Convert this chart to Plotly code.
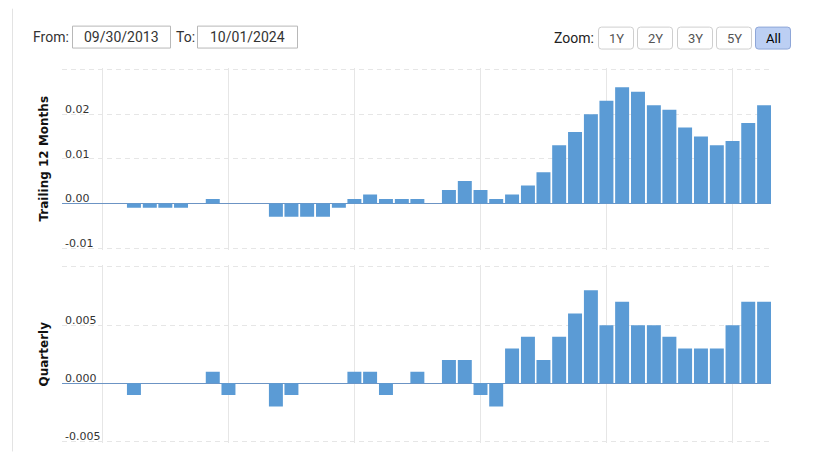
import plotly.graph_objects as go

# ---------------- data ----------------
quarter_dates = [
    "2013-09-30", "2013-12-31", "2014-03-31", "2014-06-30", "2014-09-30", "2014-12-31",
    "2015-03-31", "2015-06-30", "2015-09-30", "2015-12-31", "2016-03-31", "2016-06-30",
    "2016-09-30", "2016-12-31", "2017-03-31", "2017-06-30", "2017-09-30", "2017-12-31",
    "2018-03-31", "2018-06-30", "2018-09-30", "2018-12-31", "2019-03-31", "2019-06-30",
    "2019-09-30", "2019-12-31", "2020-03-31", "2020-06-30", "2020-09-30", "2020-12-31",
    "2021-03-31", "2021-06-30", "2021-09-30", "2021-12-31", "2022-03-31", "2022-06-30",
    "2022-09-30", "2022-12-31", "2023-03-31", "2023-06-30", "2023-09-30", "2023-12-31",
    "2024-03-31", "2024-06-30", "2024-09-30",
]
ttm_values = [
    0.0, 0.0, 0.0, 0.0, -0.001, -0.001, -0.001, -0.001, 0.0, 0.001, 0.0, 0.0,
    0.0, -0.003, -0.003, -0.003, -0.003, -0.001, 0.001, 0.002, 0.001, 0.001, 0.001, 0.0,
    0.003, 0.005, 0.003, 0.001, 0.002, 0.004, 0.007, 0.013, 0.016, 0.020, 0.023, 0.026,
    0.025, 0.022, 0.021, 0.017, 0.015, 0.013, 0.014, 0.018, 0.022,
]
quarterly_values = [
    0.0, 0.0, 0.0, 0.0, -0.001, 0.0, 0.0, 0.0, 0.0, 0.001, -0.001, 0.0,
    0.0, -0.002, -0.001, 0.0, 0.0, 0.0, 0.001, 0.001, -0.001, 0.0, 0.001, 0.0,
    0.002, 0.002, -0.001, -0.002, 0.003, 0.004, 0.002, 0.004, 0.006, 0.008, 0.005, 0.007,
    0.005, 0.005, 0.004, 0.003, 0.003, 0.003, 0.005, 0.007, 0.007,
]
top_tickvals = [-0.01, 0.0, 0.01, 0.02, 0.03]
top_ticktext = ["-0.01", "0.00", "0.01", "0.02", ""]
bot_tickvals = [-0.005, 0.0, 0.005, 0.01]
bot_ticktext = ["-0.005", "0.000", "0.005", ""]
grid_dates = ["2014-03-31", "2016-03-31", "2018-03-31", "2020-03-31", "2022-03-31", "2024-03-31"]
from_date = "09/30/2013"
to_date = "10/01/2024"
zoom_buttons = ["1Y", "2Y", "3Y", "5Y", "All"]
selected_button = "All"

# ---------------- layout geometry ----------------
# the page body has an 8px default margin, so the figure is drawn 8px in
OFF = 8
PAD = 1.5                    # keep edge gridlines just inside the plot area
TOP_Y0, TOP_Y1 = 69, 248     # window px of top panel range ends
BOT_Y0, BOT_Y1 = 267, 442    # window px of bottom panel range ends
W, H = 815 - OFF, 452 - OFF
ML, MR = 62 - OFF, 44
MT = TOP_Y0 - PAD - OFF
MB = H - (BOT_Y1 + PAD - OFF)
PW, PH = W - ML - MR, H - MT - MB


def px(x):  # window pixel -> paper x
    return (x - OFF - ML) / PW


def py(y):  # window pixel -> paper y
    return (H - MB - (y - OFF)) / PH


top_lo, top_hi = -0.01, 0.03
bot_lo, bot_hi = -0.005, 0.01
s_top = (top_hi - top_lo) / (TOP_Y1 - TOP_Y0)
s_bot = (bot_hi - bot_lo) / (BOT_Y1 - BOT_Y0)

BAR_COLOR = "#5b9bd5"
GRID = "#e6e6e6"
DAY_MS = 86400000

fig = go.Figure()
fig.add_trace(go.Bar(x=quarter_dates, y=ttm_values, xaxis="x", yaxis="y",
                     marker=dict(color=BAR_COLOR, line=dict(width=0)),
                     width=[81 * DAY_MS] * len(quarter_dates),
                     name="Trailing 12 Months", hoverinfo="x+y"))
fig.add_trace(go.Bar(x=quarter_dates, y=quarterly_values, xaxis="x2", yaxis="y2",
                     marker=dict(color=BAR_COLOR, line=dict(width=0)),
                     width=[81 * DAY_MS] * len(quarter_dates),
                     name="Quarterly", hoverinfo="x+y"))

xcommon = dict(type="date", range=["2013-08-09", "2024-11-09"], tickvals=grid_dates,
               showticklabels=False, showgrid=True, gridcolor=GRID, gridwidth=1,
               zeroline=False, showline=False, ticks="", automargin=False)
ycommon = dict(showgrid=True, gridcolor=GRID, gridwidth=1, griddash="5px,4px",
               zeroline=True, zerolinecolor="#6c94c4", zerolinewidth=1,
               showline=False, ticks="", ticklabelposition="inside",
               ticklabeloverflow="allow",
               ticklabelshift=-5, ticklabelstandoff=0, automargin=False,
               tickfont=dict(family="DejaVu Sans", size=11, color="#333333"))
title_font = dict(family="DejaVu Sans", size=12, color="#111111", weight="bold")

top_domain = [py(TOP_Y1 + PAD), py(TOP_Y0 - PAD)]
bot_domain = [py(BOT_Y1 + PAD), py(BOT_Y0 - PAD)]

fig.update_layout(
    width=W, height=H,
    margin=dict(l=ML, r=MR, t=MT, b=MB, autoexpand=False),
    paper_bgcolor="white", plot_bgcolor="white",
    showlegend=False, bargap=0.1,
    xaxis=dict(anchor="y", domain=[0, 1], **xcommon),
    xaxis2=dict(anchor="y2", domain=[0, 1], matches="x", **xcommon),
    yaxis=dict(anchor="x", domain=top_domain,
               range=[top_lo - PAD * s_top, top_hi + PAD * s_top],
               tickvals=top_tickvals, ticktext=top_ticktext,
               title=dict(text="Trailing 12 Months", font=title_font, standoff=13),
               **ycommon),
    yaxis2=dict(anchor="x2", domain=bot_domain,
                range=[bot_lo - PAD * s_bot, bot_hi + PAD * s_bot],
                tickvals=bot_tickvals, ticktext=bot_ticktext,
                title=dict(text="Quarterly", font=title_font, standoff=13),
                **ycommon),
)


def rounded_rect(x0, y0, x1, y1, r):
    X0, X1 = px(x0), px(x1)
    Y0, Y1 = py(y0), py(y1)  # Y0 is top (larger paper y)
    rx, ry = r / PW, r / PH
    return (f"M {X0+rx},{Y0} L {X1-rx},{Y0} Q {X1},{Y0} {X1},{Y0-ry} "
            f"L {X1},{Y1+ry} Q {X1},{Y1} {X1-rx},{Y1} L {X0+rx},{Y1} "
            f"Q {X0},{Y1} {X0},{Y1+ry} L {X0},{Y0-ry} Q {X0},{Y0} {X0+rx},{Y0} Z")


shapes = []
# container frame (left border)
shapes.append(dict(type="line", xref="paper", yref="paper", x0=px(12.5), x1=px(12.5),
                   y0=py(8), y1=py(452), line=dict(color="#e3e3e3", width=1)))
# date input boxes
for (a, b) in [(72, 170), (197, 297)]:
    shapes.append(dict(type="rect", xref="paper", yref="paper", x0=px(a + 0.5), x1=px(b + 0.5),
                       y0=py(25.5), y1=py(47.5), fillcolor="white",
                       line=dict(color="#b8b8b8", width=1)))
# zoom buttons
btn_x = [(598, 633), (637, 672), (677, 712), (716, 751), (755, 790)]
for label, (a, b) in zip(zoom_buttons, btn_x):
    sel = label == selected_button
    shapes.append(dict(type="path", xref="paper", yref="paper",
                       path=rounded_rect(a + 0.5, 26.5, b + 0.5, 48.5, 3),
                       fillcolor="#bccff3" if sel else "white",
                       line=dict(color="#8ea6d8" if sel else "#cfcfcf", width=1)))

annotations = []
ctrl_font = dict(family="Roboto", size=14, color="#333333")
annotations.append(dict(text="From:", x=px(31), y=py(36.5), xref="paper", yref="paper",
                        xanchor="left", yanchor="middle", showarrow=False, font=ctrl_font))
annotations.append(dict(text=from_date, x=px(121), y=py(36.5), xref="paper", yref="paper",
                        xanchor="center", yanchor="middle", showarrow=False, font=ctrl_font))
annotations.append(dict(text="To:", x=px(174), y=py(36.5), xref="paper", yref="paper",
                        xanchor="left", yanchor="middle", showarrow=False, font=ctrl_font))
annotations.append(dict(text=to_date, x=px(247), y=py(36.5), xref="paper", yref="paper",
                        xanchor="center", yanchor="middle", showarrow=False, font=ctrl_font))
annotations.append(dict(text="Zoom:", x=px(552), y=py(37.5), xref="paper", yref="paper",
                        xanchor="left", yanchor="middle", showarrow=False,
                        font=dict(family="Roboto", size=14, color="#222222")))
for label, (a, b) in zip(zoom_buttons, btn_x):
    annotations.append(dict(text=label, x=px((a + b) / 2 + 0.5), y=py(37.5), xref="paper",
                            yref="paper", xanchor="center", yanchor="middle", showarrow=False,
                            font=dict(family="Roboto", size=13,
                                      color="#000000" if label == selected_button else "#555555")))

fig.update_layout(shapes=shapes, annotations=annotations)
fig.write_html("out.html")
